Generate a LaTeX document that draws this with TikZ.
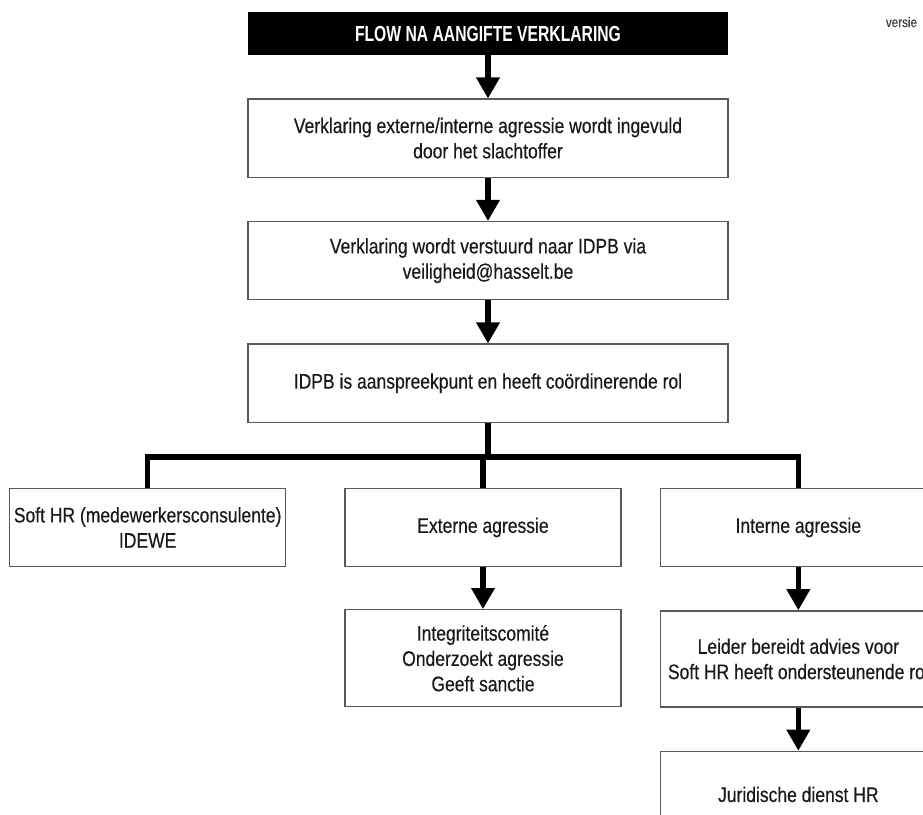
\documentclass[tikz,border=0pt]{standalone}
\usepackage{fontspec}
\setmainfont{Liberation Sans}[FakeStretch=0.83,FakeBold=0.35]
\newfontfamily\headfont{Liberation Sans}[FakeStretch=0.72]
\usetikzlibrary{positioning,arrows.meta}

\begin{document}
\begin{tikzpicture}[x=0.025cm,y=-0.025cm,node distance=1.08cm]
  \tikzstyle{box}=[draw=black!65,line width=0.9pt,minimum width=12cm,minimum height=1.95cm,inner sep=2pt,align=center,font=\fontsize{15}{18}\selectfont,text=black!90]
  \tikzstyle{smallbox}=[box,minimum width=6.9cm]
  \tikzstyle{link}=[line width=4pt]
  \tikzstyle{arrow}=[link,-{Triangle[width=16pt,length=15pt]}]
  \useasboundingbox (0,0) rectangle (923,815);
  \clip (0,0) rectangle (923,815);
  \node[fill=black,minimum width=12cm,minimum height=1.075cm,text=white,font=\headfont\bfseries\fontsize{15.5}{17}\selectfont] (head) at (488,33.5) {FLOW NA AANGIFTE VERKLARING};
  \node[box,below=of head] (invul) {Verklaring externe/interne agressie wordt ingevuld\\door het slachtoffer};
  \node[box,below=of invul] (verstuur) {Verklaring wordt verstuurd naar IDPB via\\veiligheid@hasselt.be};
  \node[box,below=of verstuur] (idpb) {IDPB is aanspreekpunt en heeft coördinerende rol};
  \node[smallbox,below=1.625cm of idpb,xshift=-0.125cm] (extern) {Externe agressie};
  \node[smallbox,left=1.45cm of extern] (softhr) {Soft HR (medewerkersconsulente)\\IDEWE};
  \node[smallbox,right=0.95cm of extern] (intern) {Interne agressie};
  \node[smallbox,minimum height=2.425cm,below=1.05cm of extern] (integ) {Integriteitscomité\\Onderzoekt agressie\\Geeft sanctie};
  \node[smallbox,minimum height=2.4cm,below=of intern] (leider) {Leider bereidt advies voor\\Soft HR heeft ondersteunende rol};
  \node[smallbox,minimum height=2.15cm,below=of leider] (jurid) {Juridische dienst HR};
  \node[anchor=east,font=\fontsize{10}{12}\selectfont,text=black!75] (versie) at (922,22) {versie};
  \coordinate[below=0.85cm of idpb] (split);
  \draw[arrow] (head) -- (invul);
  \draw[arrow] (invul) -- (verstuur);
  \draw[arrow] (verstuur) -- (idpb);
  \draw[link] (idpb) -- (split);
  \draw[link] (softhr) |- (split) -| (intern);
  \draw[link] (extern) -- (extern |- split);
  \draw[arrow] (extern) -- (integ);
  \draw[arrow] (intern) -- (leider);
  \draw[arrow] (leider) -- (jurid);
\end{tikzpicture}
\end{document}
